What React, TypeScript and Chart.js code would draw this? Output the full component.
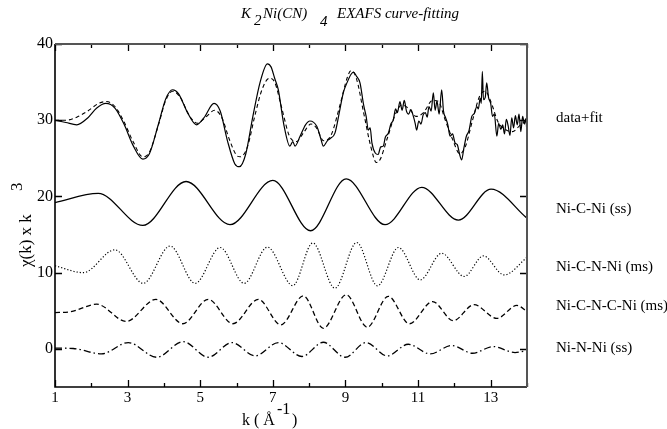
import React, { useEffect, useRef } from "react";
import { Chart, registerables } from "chart.js";

Chart.register(...registerables);

// ---------- data ----------
const dataK = [1.0, 1.3, 1.6, 1.9, 2.15, 2.4, 2.65, 2.9, 3.15, 3.42, 3.6, 3.85, 4.05, 4.24, 4.4, 4.65, 4.9, 5.1, 5.38, 5.55, 5.75, 5.95, 6.08, 6.25, 6.45, 6.65, 6.85, 6.95, 7.05, 7.15, 7.3, 7.47, 7.55, 7.61, 7.75, 7.9, 8.02, 8.21, 8.32, 8.39, 8.5, 8.58, 8.71, 8.85, 8.94, 9.05, 9.15, 9.22, 9.3, 9.4, 9.5, 9.57, 9.63, 9.68, 9.73, 9.82, 9.9, 9.97, 10.04, 10.1, 10.18, 10.25, 10.32, 10.38, 10.43, 10.5, 10.56, 10.62, 10.68, 10.74, 10.8, 10.87, 10.92, 10.96, 11.02, 11.08, 11.14, 11.2, 11.25, 11.3, 11.36, 11.42, 11.47, 11.52, 11.58, 11.65, 11.7, 11.76, 11.82, 11.88, 11.95, 12.02, 12.08, 12.14, 12.2, 12.26, 12.33, 12.4, 12.48, 12.55, 12.62, 12.66, 12.71, 12.74, 12.77, 12.8, 12.85, 12.89, 12.94, 13.0, 13.05, 13.1, 13.17, 13.22, 13.28, 13.33, 13.38, 13.43, 13.48, 13.53, 13.58, 13.63, 13.68, 13.73, 13.78, 13.83, 13.88, 13.93, 13.97, 14.0];
const dataChi = [30.0, 29.7, 29.4, 30.3, 31.6, 32.2, 31.6, 29.5, 26.7, 24.9, 25.6, 29.5, 32.8, 34.0, 33.5, 31.0, 29.4, 30.3, 32.2, 31.2, 27.3, 24.3, 23.9, 25.5, 30.5, 35.0, 37.4, 37.0, 35.5, 34.0, 29.5, 26.6, 27.2, 26.6, 27.9, 29.4, 29.9, 29.2, 27.6, 26.6, 27.3, 27.6, 28.3, 31.5, 33.6, 35.0, 36.0, 36.3, 35.8, 34.9, 32.0, 30.5, 28.7, 29.0, 27.0, 25.7, 25.5, 26.5, 26.6, 27.8, 28.3, 29.5, 30.05, 31.5, 31.0, 32.45, 31.3, 32.6, 31.2, 30.8, 31.4, 30.5, 29.6, 28.7, 29.9, 29.5, 30.7, 31.0, 30.4, 31.8, 31.2, 33.6, 31.3, 32.5, 30.8, 34.0, 31.2, 30.3, 29.4, 27.9, 28.2, 27.0, 26.8, 25.6, 24.8, 26.3, 27.9, 28.6, 30.5, 30.9, 31.8, 31.5, 32.9, 32.2, 36.4, 32.7, 33.0, 34.9, 33.0, 32.2, 30.5, 30.8, 27.9, 29.6, 28.8, 29.4, 28.2, 30.1, 29.3, 28.0, 30.3, 29.0, 30.6, 29.4, 30.8, 28.5, 30.5, 29.5, 30.2, 28.0];

const fitK = [1.0, 1.3, 1.6, 1.9, 2.2, 2.42, 2.65, 2.9, 3.15, 3.42, 3.6, 3.85, 4.05, 4.24, 4.45, 4.7, 4.92, 5.15, 5.4, 5.6, 5.8, 6.0, 6.1, 6.3, 6.5, 6.7, 6.9, 7.05, 7.25, 7.45, 7.65, 7.85, 8.05, 8.2, 8.4, 8.6, 8.85, 9.05, 9.15, 9.3, 9.5, 9.7, 9.85, 9.95, 10.15, 10.35, 10.55, 10.75, 10.95, 11.15, 11.4, 11.55, 11.75, 11.95, 12.15, 12.3, 12.5, 12.7, 12.85, 13.0, 13.2, 13.4, 13.6, 13.8, 14.0];
const fitChi = [30.0, 30.0, 30.4, 31.2, 32.2, 32.45, 31.8, 29.8, 27.2, 25.2, 25.8, 29.4, 32.6, 33.8, 33.0, 30.6, 29.6, 30.4, 31.3, 30.3, 27.5, 25.4, 25.2, 26.5, 30.5, 34.0, 35.5, 35.0, 31.5, 28.0, 27.2, 28.4, 29.5, 29.0, 27.3, 28.0, 32.0, 35.6, 36.5, 35.5, 31.0, 26.5, 24.45, 24.8, 27.6, 30.5, 32.0, 31.5, 30.5, 31.0, 32.6, 32.5, 30.0, 27.5, 25.6, 26.5, 30.0, 33.2, 33.8, 32.5, 29.8, 28.8, 28.5, 29.3, 30.0];

const nicniK = [1.0, 2.19, 3.42, 4.61, 5.82, 7.0, 8.04, 9.02, 10.09, 11.1, 12.11, 13.01, 14.0];
const nicniChi = [19.2, 20.4, 16.2, 21.96, 16.3, 22.1, 15.5, 22.3, 16.3, 21.2, 16.9, 20.96, 17.15];

const nicnniK = [1.0, 1.78, 2.65, 3.43, 4.17, 4.86, 5.55, 6.21, 6.85, 7.55, 8.1, 8.71, 9.31, 9.88, 10.46, 11.06, 11.65, 12.27, 12.8, 13.37, 14.0];
const nicnniChi = [10.9, 10.0, 13.0, 8.6, 13.5, 8.6, 13.3, 8.6, 13.35, 8.3, 13.9, 7.96, 13.96, 8.27, 13.3, 9.06, 12.55, 9.5, 12.2, 9.7, 12.0];

const nicncniK = [1.0, 1.4, 2.15, 2.96, 3.78, 4.52, 5.22, 5.9, 6.6, 7.22, 7.84, 8.39, 9.02, 9.6, 10.18, 10.76, 11.4, 11.97, 12.54, 13.17, 13.72, 14.0];
const nicncniChi = [4.77, 4.85, 5.86, 3.6, 6.5, 3.3, 6.5, 3.3, 6.5, 3.15, 6.96, 2.7, 7.1, 2.85, 6.9, 3.3, 6.2, 3.7, 5.8, 4.0, 5.7, 4.9];

const ninniK = [1.0, 1.5, 2.28, 3.02, 3.8, 4.53, 5.22, 5.87, 6.51, 7.15, 7.8, 8.39, 8.99, 9.57, 10.15, 10.73, 11.33, 11.93, 12.5, 13.07, 13.67, 14.0];
const ninniChi = [0.1, 0.05, -0.65, 0.83, -1.1, 0.96, -1.1, 0.83, -0.92, 0.83, -1.0, 0.87, -1.1, 0.83, -0.92, 0.61, -0.66, 0.44, -0.57, 0.31, -0.48, -0.2];

const xTickValues = [1, 2, 3, 4, 5, 6, 7, 8, 9, 10, 11, 12, 13, 14];
const yTickValues = [0, 10, 20, 30, 40];
const curveLabels = ["data+fit", "Ni-C-Ni (ss)", "Ni-C-N-Ni (ms)", "Ni-C-N-C-Ni (ms)", "Ni-N-Ni (ss)"];
const curveLabelValues = [30.3, 18.3, 10.8, 5.6, 0.1];

const SERIF = '"Liberation Serif", "Times New Roman", serif';

function pts(k: number[], v: number[]) {
  return k.map((x, i) => ({ x, y: v[i] }));
}

const annotPlugin = {
  id: "annot",
  afterDraw(chart: any) {
    const ctx = chart.ctx;
    const ca = chart.chartArea;
    const xs = chart.scales.x;
    const ys = chart.scales.y;
    ctx.save();
    // ticks
    ctx.strokeStyle = "#000";
    ctx.lineWidth = 1.3;
    ctx.beginPath();
    for (const k of xTickValues) {
      const px = Math.round(xs.getPixelForValue(k)) + 0.5;
      const len = k % 2 === 1 ? 7 : 4;
      ctx.moveTo(px, ca.bottom);
      ctx.lineTo(px, ca.bottom - len);
      ctx.moveTo(px, ca.top);
      ctx.lineTo(px, ca.top + len);
    }
    for (const v of yTickValues) {
      const py = Math.round(ys.getPixelForValue(v)) + 0.5;
      ctx.moveTo(ca.left, py);
      ctx.lineTo(ca.left + 7, py);
      ctx.moveTo(ca.right, py);
      ctx.lineTo(ca.right - 7, py);
    }
    ctx.stroke();
    // frame
    ctx.lineWidth = 1.6;
    ctx.strokeStyle = "#000";
    ctx.beginPath();
    ctx.moveTo(ca.left, ca.top);
    ctx.lineTo(ca.left, ca.bottom);
    ctx.lineTo(ca.right, ca.bottom);
    ctx.stroke();
    ctx.strokeStyle = "#555";
    ctx.lineWidth = 2;
    ctx.beginPath();
    ctx.moveTo(ca.left, ca.top);
    ctx.lineTo(ca.right, ca.top);
    ctx.lineTo(ca.right, ca.bottom);
    ctx.stroke();

    ctx.fillStyle = "#000";
    // curve labels
    ctx.font = `15px ${SERIF}`;
    ctx.textBaseline = "middle";
    ctx.textAlign = "left";
    curveLabels.forEach((t, i) => {
      ctx.fillText(t, ca.right + 29, ys.getPixelForValue(curveLabelValues[i]));
    });

    // title
    ctx.textBaseline = "alphabetic";
    ctx.font = `italic 15px ${SERIF}`;
    ctx.fillText("K", 241, 18);
    ctx.fillText("2", 254, 25);
    ctx.fillText("Ni(CN)", 263, 18);
    ctx.fillText("4", 320, 26);
    ctx.fillText("EXAFS curve-fitting", 337, 18);

    // x axis title
    ctx.font = `16px ${SERIF}`;
    ctx.fillText("k ( \u00C5", 242, 425);
    ctx.fillText("-1", 277, 414);
    ctx.fillText(")", 292, 425);

    // y axis title
    ctx.save();
    ctx.translate(31, 267);
    ctx.rotate(-Math.PI / 2);
    ctx.font = `17px ${SERIF}`;
    ctx.fillText("\u03C7(k) x k", 0, 0);
    ctx.fillText("3", 76, -9);
    ctx.restore();
    ctx.restore();
  },
};

export default function App() {
  const ref = useRef<HTMLCanvasElement | null>(null);
  useEffect(() => {
    if (!ref.current) return;
    const base = {
      borderColor: "#000",
      borderWidth: 1.3,
      pointRadius: 0,
      fill: false,
      cubicInterpolationMode: "monotone" as const,
    };
    const chart = new Chart(ref.current, {
      type: "line",
      data: {
        datasets: [
          { ...base, label: "data", data: pts(dataK, dataChi), borderWidth: 1.2 },
          { ...base, label: "fit", data: pts(fitK, fitChi), borderDash: [4, 3], borderWidth: 1.1 },
          { ...base, label: curveLabels[1], data: pts(nicniK, nicniChi) },
          { ...base, label: curveLabels[2], data: pts(nicnniK, nicnniChi), borderDash: [1.2, 2], borderWidth: 1.2 },
          { ...base, label: curveLabels[3], data: pts(nicncniK, nicncniChi), borderDash: [5, 3] },
          { ...base, label: curveLabels[4], data: pts(ninniK, ninniChi), borderDash: [7, 3, 1.5, 3] },
        ],
      },
      options: {
        animation: false,
        responsive: false,
        devicePixelRatio: 1,
        layout: { padding: { top: 44, right: 140, left: 0, bottom: 0 } },
        plugins: {
          legend: { display: false },
          title: { display: false },
          tooltip: { enabled: false },
        },
        scales: {
          x: {
            type: "linear",
            min: 1,
            max: 14,
            grid: { display: false, drawTicks: false },
            border: { display: false },
            afterBuildTicks: (s: any) => {
              s.ticks = xTickValues.map((v) => ({ value: v }));
            },
            afterFit: (s: any) => {
              s.height = 42;
            },
            ticks: {
              autoSkip: false,
              maxRotation: 0,
              padding: 2,
              color: "#000",
              font: { family: SERIF, size: 15 },
              callback: (v: any) => (Number(v) % 2 === 1 ? String(v) : ""),
            },
          },
          y: {
            type: "linear",
            min: -5,
            max: 40,
            grid: { display: false, drawTicks: false },
            border: { display: false },
            afterBuildTicks: (s: any) => {
              s.ticks = yTickValues.map((v) => ({ value: v }));
            },
            afterFit: (s: any) => {
              s.width = 55;
            },
            ticks: {
              autoSkip: false,
              padding: 2,
              color: "#000",
              font: { family: SERIF, size: 16 },
              callback: (v: any) => String(v),
            },
          },
        },
      },
      plugins: [annotPlugin],
    });
    return () => chart.destroy();
  }, []);
  return (
    <div style={{ position: "fixed", left: 0, top: 0, width: 667, height: 429, background: "#fff" }}>
      <canvas ref={ref} width={667} height={429} style={{ width: 667, height: 429 }} />
    </div>
  );
}
